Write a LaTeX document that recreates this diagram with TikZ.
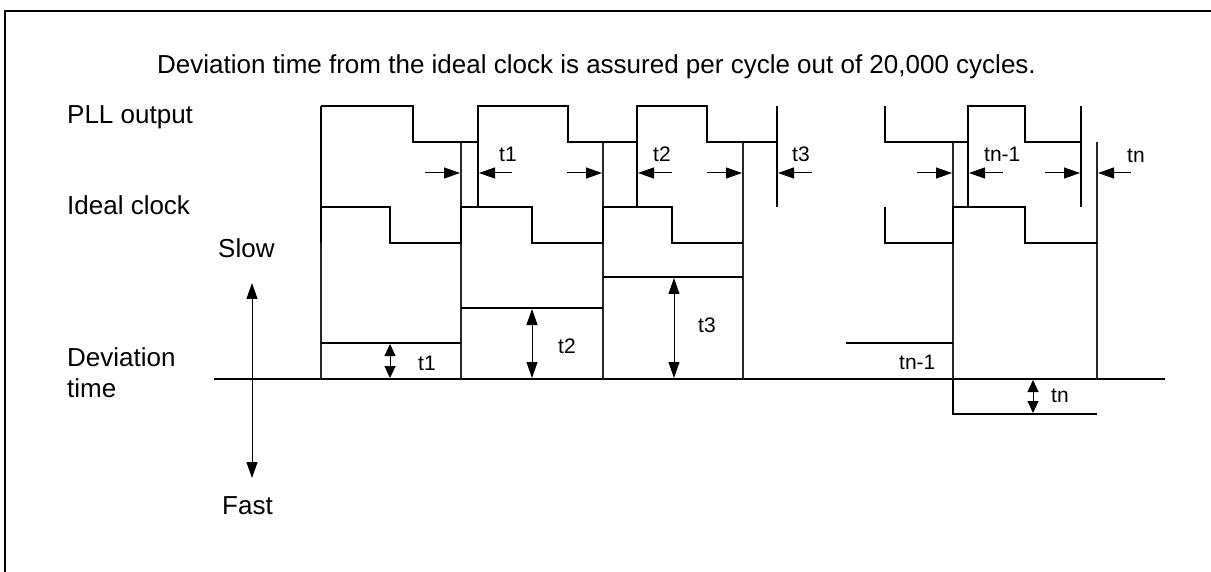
\documentclass[tikz,border=0pt]{standalone}
\usepackage{fontspec}
\setmainfont{Liberation Sans}
\usetikzlibrary{arrows.meta}
\begin{document}
\begin{tikzpicture}[x=1pt,y=-1pt,
  wave/.style={line width=2pt,line join=miter},
  ext/.style={line width=1.7pt,black!85},
  harr/.style={line width=1pt,-{Triangle[length=16pt,width=11pt]}},
  varr/.style={line width=1pt,{Triangle[length=16pt,width=11pt]}-{Triangle[length=16pt,width=11pt]}},
  sarr/.style={line width=1pt,{Triangle[length=12pt,width=11pt]}-{Triangle[length=12pt,width=11pt]}},
  big/.style={font=\fontsize{26}{31}\selectfont,inner sep=0pt,anchor=base west},
  small/.style={font=\fontsize{21}{25}\selectfont,inner sep=0pt,anchor=base west}]
\useasboundingbox (0,0) rectangle (1211,572);
% frame
\draw[line width=2pt] (5,572) -- (5,11) -- (1212,11);
% texts
\node[big] (title) at (157,74) {Deviation time from the ideal clock is assured per cycle out of 20,000 cycles.};
\node[big] (pll) at (67,124) {PLL output};
\node[big] (ideal) at (67,215) {Ideal clock};
\node[big] (slow) at (218,258) {Slow};
\node[big] (dev1) at (67,366) {Deviation};
\node[big] (dev2) at (67,397) {time};
\node[big] (fast) at (222,514) {Fast};
% baseline
\draw[wave] (214,379) -- (1165,379);
% Slow/Fast arrow
\coordinate (slowtip) at (252,283);
\coordinate (fasttip) at (252,478);
\draw[varr] (slowtip) -- (fasttip);
% edge lines
\draw[ext] (321,243) -- (321,379);
\draw[ext] (461,142) -- (461,379);
\draw[ext] (603,142) -- (603,379);
\draw[ext] (743,142) -- (743,379);
\draw[ext] (953,142) -- (953,379);
\draw[ext] (1097,142) -- (1097,379);
% PLL output
\draw[wave] (321,106) -- (413,106) -- (413,142) -- (478,142) -- (478,106) -- (568,106) -- (568,142)
  -- (637,142) -- (637,106) -- (707,106) -- (707,142) -- (777,142);
\draw[wave] (478,106) -- (478,207);
\draw[wave] (637,106) -- (637,207);
\draw[wave] (777,106) -- (777,207);
\draw[wave] (885,106) -- (885,142) -- (968,142) -- (968,106) -- (1025,106) -- (1025,142) -- (1081,142);
\draw[wave] (968,106) -- (968,207);
\draw[wave] (1081,106) -- (1081,207);
% ideal clock
\draw[wave] (321,207) -- (390,207) -- (390,243) -- (461,243) -- (461,207) -- (532,207) -- (532,243)
  -- (603,243) -- (603,207) -- (672,207) -- (672,243) -- (743,243);
\draw[wave] (885,207) -- (885,243) -- (953,243) -- (953,207) -- (1025,207) -- (1025,243) -- (1097,243);
\draw[wave] (321,106) -- (321,243);
% deviation levels
\draw[wave] (321,343) -- (461,343);
\draw[wave] (461,308) -- (603,308);
\draw[wave] (603,277) -- (743,277);
\draw[wave] (846,343) -- (953,343);
\draw[wave] (953,379) -- (953,414) -- (1097,414);
% horizontal arrows
\draw[harr] (425,173) -- (460,173);
\draw[harr] (512,173) -- (479,173);
\draw[harr] (567,173) -- (602,173);
\draw[harr] (672,173) -- (638,173);
\draw[harr] (707,173) -- (742,173);
\draw[harr] (812,173) -- (778,173);
\draw[harr] (917,173) -- (952,173);
\draw[harr] (1003,173) -- (969,173);
\draw[harr] (1045,173) -- (1080,173);
\draw[harr] (1131,173) -- (1098,173);
% vertical arrows
\draw[sarr] (390,344) -- (390,378);
\draw[varr] (532,309) -- (532,378);
\draw[varr] (674,278) -- (674,378);
\draw[sarr] (1033,380) -- (1033,413);
% small labels
\node[small] (lt1) at (499,162) {t1};
\node[small] (lt2) at (653,162) {t2};
\node[small] (lt3) at (792,162) {t3};
\node[small] (ltn1) at (984,162) {tn-1};
\node[small] (ltn) at (1127,163) {tn};
\node[small] (dt1) at (418,370) {t1};
\node[small] (dt2) at (558,353) {t2};
\node[small] (dt3) at (698,333) {t3};
\node[small] (dtn1) at (899,369) {tn-1};
\node[small] (dtn) at (1051,402) {tn};
\end{tikzpicture}
\end{document}
